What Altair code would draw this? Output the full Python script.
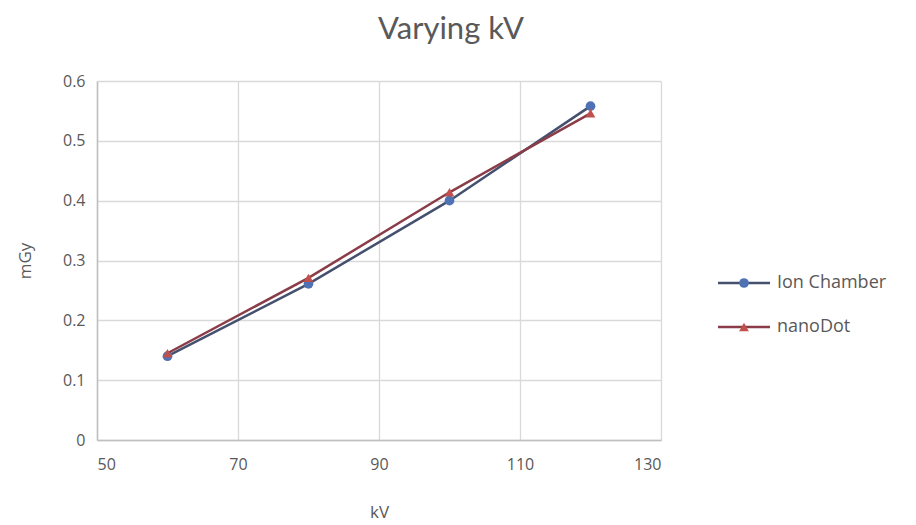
import altair as alt
import pandas as pd

# Dose measured at each tube voltage
kv = [60, 80, 100, 120]
ion_chamber = [0.140, 0.261, 0.400, 0.558]
nano_dot = [0.145, 0.271, 0.414, 0.546]

series_names = ["Ion Chamber", "nanoDot"]
line_colors = ["#44506e", "#8a3d48"]
marker_colors = ["#4f72b5", "#c0504d"]
marker_shapes = ["circle", "triangle-up"]

df = pd.DataFrame({
    "kV": kv * 2,
    "mGy": ion_chamber + nano_dot,
    "series": [series_names[0]] * len(kv) + [series_names[1]] * len(kv),
})

W, H = 564, 359

x_enc = alt.X("kV:Q", scale=alt.Scale(domain=[50, 130], nice=False),
              axis=alt.Axis(values=[50, 70, 90, 110, 130], title="kV",
                            labelPadding=16, titlePadding=32))
y_enc = alt.Y("mGy:Q", scale=alt.Scale(domain=[0, 0.6], nice=False),
              axis=alt.Axis(values=[0, 0.1, 0.2, 0.3, 0.4, 0.5, 0.6], format="~g",
                            title="mGy", labelPadding=12, titlePadding=28))

layers = []
for i, name in enumerate(series_names):
    sub = df[df["series"] == name]
    base = alt.Chart(sub).encode(x=x_enc, y=y_enc)
    layers.append(base.mark_line(color=line_colors[i], strokeWidth=2.5))
    layers.append(base.mark_point(shape=marker_shapes[i], filled=True, size=95,
                                  color=marker_colors[i], opacity=1))

# Legend drawn beside the plot area
legend_y = [202, 246]
for i, name in enumerate(series_names):
    one = pd.DataFrame({"label": [name]})
    layers.append(alt.Chart(one).mark_rule(color=line_colors[i], strokeWidth=2.5).encode(
        x=alt.value(621), x2=alt.value(673), y=alt.value(legend_y[i])))
    layers.append(alt.Chart(one).mark_point(shape=marker_shapes[i], filled=True, size=95,
                                            color=marker_colors[i], opacity=1).encode(
        x=alt.value(647), y=alt.value(legend_y[i])))
    layers.append(alt.Chart(one).mark_text(align="left", baseline="middle", fontSize=18,
                                           font="Open Sans", color="#595959").encode(
        x=alt.value(680), y=alt.value(legend_y[i]), text="label:N"))

chart = alt.layer(*layers).properties(
    width=W, height=H,
    title=alt.TitleParams("Varying kV", fontSize=31, font="Lato", fontWeight="normal",
                          color="#595959", anchor="middle", dx=72, offset=27),
    autosize=alt.AutoSizeParams(type="none"),
    padding={"left": 97, "top": 81, "right": 255, "bottom": 85},
).configure_view(stroke=None).configure_axis(
    labelFont="Open Sans", labelFontSize=16, labelColor="#595959",
    titleFont="Open Sans", titleFontSize=17, titleColor="#595959", titleFontWeight="normal",
    gridColor="#d9d9d9", gridWidth=1.3, domainColor="#bfbfbf", domainWidth=1.5,
    ticks=False,
)

chart.save("out.html", embed_options={"renderer": "svg", "actions": False})
